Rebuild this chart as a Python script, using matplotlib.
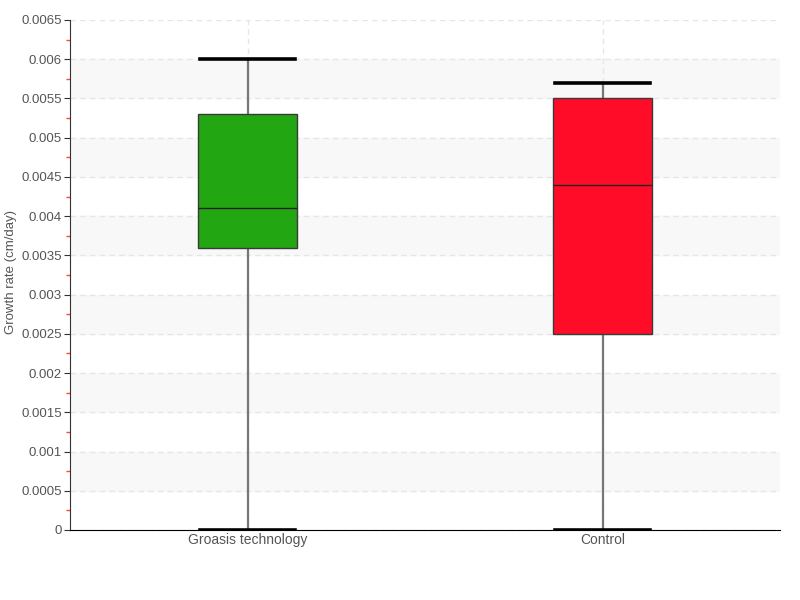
import matplotlib.pyplot as plt
from matplotlib.ticker import MultipleLocator, FuncFormatter

# Data
categorias = ['Groasis technology', 'Control']
minimos = [0.0, 0.0]
q1 = [0.0036, 0.0025]
medianas = [0.0041, 0.0044]
q3 = [0.0053, 0.0055]
maximos = [0.006, 0.0057]
cores = ['#22a612', '#ff0c28']

plt.rcParams['font.family'] = ['Liberation Sans', 'DejaVu Sans']

fig = plt.figure(figsize=(8, 6), dpi=100)
ax = fig.add_axes([0.0875, 0.1167, 0.8875, 0.85])

# faixas alternadas de fundo
for k in range(6):
    y0 = 0.0005 + k * 0.001
    ax.axhspan(y0, y0 + 0.0005, color='#f8f8f8', zorder=0)

stats = []
for i, nome in enumerate(categorias):
    stats.append(dict(label=nome, whislo=minimos[i], q1=q1[i], med=medianas[i],
                      q3=q3[i], whishi=maximos[i], fliers=[]))

bp = ax.bxp(stats, positions=range(len(categorias)), widths=0.28,
            patch_artist=True, showfliers=False,
            boxprops=dict(edgecolor='#3a3a3a', linewidth=1),
            medianprops=dict(color='#222222', linewidth=1),
            whiskerprops=dict(color='#777777', linewidth=1.6),
            capprops=dict(color='black', linewidth=2.6),
            capwidths=0.27)
for caixa, cor in zip(bp['boxes'], cores):
    caixa.set_facecolor(cor)
for w in bp['whiskers']:
    w.set_zorder(1)

ax.set_xlim(-0.5, 1.5)
ax.set_ylim(0, 0.0065)
ax.yaxis.set_major_locator(MultipleLocator(0.0005))
ax.yaxis.set_minor_locator(MultipleLocator(0.00025))
ax.yaxis.set_major_formatter(FuncFormatter(lambda v, p: f"{round(v, 5):g}"))
ax.tick_params(axis='y', which='major', length=4, color='#333333', labelsize=9.5, labelcolor='#555555', pad=2)
ax.tick_params(axis='y', which='minor', length=3, width=1, color='#ff4444')
ax.tick_params(axis='x', length=0, labelsize=10, labelcolor='#555555', pad=2)

ax.grid(True, which='major', axis='y', linestyle=(0, (4, 3)), color='#e6e6e6', linewidth=1)
ax.grid(True, which='major', axis='x', linestyle=(0, (4, 3)), color='#e6e6e6', linewidth=1)
ax.set_axisbelow(True)

ax.spines['top'].set_visible(False)
ax.spines['right'].set_visible(False)
ax.spines['left'].set_color('#333333')
ax.spines['bottom'].set_color('black')

ax.set_ylabel('Growth rate (cm/day)', fontsize=9.5, color='#555555')
ax.yaxis.set_label_coords(-0.074, 0.505)

fig.savefig('out.png', dpi=100)
